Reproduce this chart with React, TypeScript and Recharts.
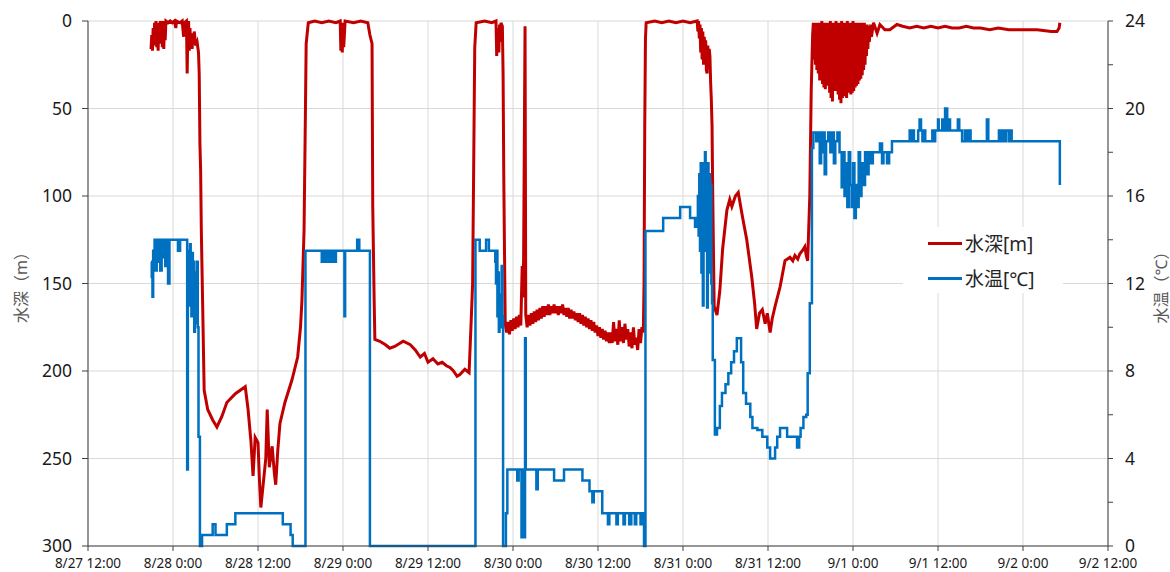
import {
  CartesianGrid,
  Legend,
  Line,
  LineChart,
  XAxis,
  YAxis,
} from "recharts";

// hours since 8/27 12:00 -> readings
const xTickLabels = [
  "8/27 12:00",
  "8/28 0:00",
  "8/28 12:00",
  "8/29 0:00",
  "8/29 12:00",
  "8/30 0:00",
  "8/30 12:00",
  "8/31 0:00",
  "8/31 12:00",
  "9/1 0:00",
  "9/1 12:00",
  "9/2 0:00",
  "9/2 12:00",
];
const depthTicks = [0, 50, 100, 150, 200, 250, 300];
const tempTicks = [0, 2, 4, 6, 8, 10, 12, 14, 16, 18, 20, 22, 24];

// [hour, depth m]
const depthReadings: [number, number][] = [
  [8.9, 16], [9.0, 8], [9.1, 17], [9.2, 4], [9.3, 14], [9.4, 1], [9.5, 12], [9.6, 0],
  [9.7, 15], [9.8, 3], [9.9, 17], [10.0, 1], [10.1, 13], [10.2, 0], [10.3, 9], [10.4, 0],
  [10.5, 15], [10.6, 2], [10.7, 16], [10.8, 0], [10.9, 11], [11.0, 0], [11.3, 1], [11.6, 0],
  [11.9, 1], [12.2, 0], [12.4, 4], [12.5, 0], [13.0, 1], [13.3, 0], [13.5, 9], [13.6, 1],
  [13.9, 0], [14.0, 30], [14.1, 6], [14.2, 0], [14.3, 17], [14.4, 4], [14.5, 15], [14.6, 7],
  [14.7, 16], [14.8, 9], [14.9, 13], [15.0, 6], [15.2, 14], [15.4, 12], [15.6, 18], [15.7, 30],
  [15.8, 70], [15.9, 85], [16.0, 120], [16.2, 165], [16.4, 211], [16.9, 222], [17.6, 228],
  [18.2, 232], [18.9, 226], [19.6, 218], [20.8, 213], [22.2, 209], [22.6, 222], [23.0, 240],
  [23.3, 260], [23.6, 238], [24.0, 241], [24.2, 262], [24.4, 278], [24.8, 262], [25.1, 250],
  [25.3, 222], [25.6, 255], [26.0, 243], [26.3, 258], [26.5, 265], [26.8, 245], [27.1, 230],
  [27.8, 218], [28.8, 205], [29.6, 192], [30.0, 175], [30.2, 160], [30.5, 120], [30.7, 50],
  [30.8, 13], [31.1, 1], [32.0, 0], [33.0, 1], [34.0, 0], [35.0, 1], [35.6, 0], [35.7, 17],
  [35.8, 2], [35.9, 18], [36.0, 1], [36.1, 15], [36.3, 0], [37.5, 1], [38.5, 0], [39.5, 1],
  [39.8, 8], [40.1, 13], [40.2, 106], [40.4, 160], [40.5, 182], [41.2, 183], [42.0, 185],
  [42.6, 187], [43.3, 186], [44.5, 183], [45.5, 185], [46.2, 188], [46.9, 192], [47.5, 190],
  [48.0, 195], [48.7, 193], [49.4, 196], [50.0, 195], [50.6, 197], [51.1, 198], [51.6, 200],
  [52.1, 203], [52.5, 202], [53.2, 199], [53.8, 201], [54.1, 171], [54.3, 150],
  [54.5, 60], [54.6, 15], [54.8, 1], [56.0, 0], [57.0, 1], [57.6, 0], [57.7, 20], [57.8, 4],
  [58.0, 18], [58.1, 2], [58.2, 12], [58.3, 1], [58.5, 3], [58.6, 30], [58.7, 90], [58.9, 173],
  [59.1, 178], [59.3, 172], [59.5, 179], [59.7, 171], [59.9, 177], [60.1, 170], [60.3, 176],
  [60.5, 169], [60.7, 175], [60.9, 168], [61.1, 174], [61.3, 140], [61.4, 158], [61.5, 135],
  [61.7, 3], [61.8, 168], [62.0, 175], [62.2, 168], [62.4, 174], [62.6, 167], [62.8, 173],
  [63.0, 166], [63.2, 172], [63.4, 165], [63.6, 171], [63.8, 164], [64.0, 170], [64.2, 163],
  [64.4, 169], [64.6, 163], [64.8, 168], [65.0, 162], [65.2, 168], [65.4, 163], [65.6, 167],
  [65.8, 162], [66.0, 167], [66.2, 163], [66.4, 168], [66.6, 163], [66.8, 167], [67.0, 162],
  [67.2, 168], [67.4, 164], [67.6, 169], [67.8, 164], [68.0, 170], [68.2, 165], [68.4, 170],
  [68.6, 166], [68.8, 171], [69.0, 167], [69.2, 172], [69.4, 167], [69.6, 173], [69.8, 168],
  [70.0, 174], [70.2, 169], [70.4, 175], [70.6, 170], [70.8, 176], [71.0, 171], [71.2, 177],
  [71.4, 172], [71.6, 178], [71.8, 174], [72.0, 180], [72.2, 175], [72.4, 181], [72.6, 176],
  [72.8, 182], [73.0, 177], [73.2, 183], [73.4, 178], [73.6, 184], [73.8, 178], [74.0, 184],
  [74.2, 172], [74.4, 183], [74.6, 176], [74.8, 185], [75.0, 171], [75.2, 183], [75.4, 175],
  [75.6, 184], [75.8, 173], [76.0, 182], [76.2, 176], [76.4, 186], [76.6, 178], [76.8, 187],
  [77.0, 175], [77.2, 185], [77.4, 181], [77.6, 188], [77.8, 176], [78.0, 184], [78.2, 175],
  [78.4, 178], [78.5, 150], [78.6, 60], [78.7, 10],
  [78.8, 1], [80.0, 0], [81.0, 1], [82.0, 0], [83.0, 1], [84.0, 0], [85.0, 1], [86.0, 0],
  [86.1, 6], [86.2, 0], [86.3, 10], [86.4, 2], [86.5, 18], [86.6, 4], [86.7, 22], [86.8, 6],
  [86.9, 25], [87.0, 9], [87.1, 17], [87.2, 11], [87.3, 28], [87.4, 30], [87.5, 14], [87.6, 23],
  [87.7, 16], [87.8, 20], [87.9, 35], [88.0, 45], [88.1, 60], [88.2, 100], [88.4, 163],
  [88.8, 168], [89.2, 154], [89.6, 130], [90.2, 108], [90.6, 102], [90.9, 106], [91.4, 100],
  [91.8, 98], [92.4, 112], [93.0, 125], [93.7, 146], [94.1, 161], [94.4, 176], [94.8, 167],
  [95.2, 165], [95.6, 173], [95.9, 167], [96.3, 178], [96.6, 170], [97.0, 163], [97.7, 152],
  [98.4, 137], [99.1, 135], [99.5, 137], [99.8, 134], [100.2, 136], [100.5, 133], [100.9, 131],
  [101.2, 129], [101.4, 134], [101.6, 137], [101.9, 100], [102.1, 40], [102.3, 8],
  [102.4, 1], [102.5, 22], [102.6, 2], [102.7, 25], [102.8, 1], [102.9, 28], [103.0, 3],
  [103.1, 30], [103.2, 1], [103.3, 34], [103.4, 2], [103.5, 31], [103.6, 0], [103.7, 36],
  [103.8, 2], [103.9, 38], [104.0, 1], [104.1, 39], [104.2, 3], [104.3, 33], [104.4, 1],
  [104.5, 37], [104.6, 2], [104.7, 41], [104.8, 0], [104.9, 44], [105.0, 3], [105.1, 46],
  [105.2, 1], [105.3, 36], [105.4, 2], [105.5, 40], [105.6, 0], [105.7, 39], [105.8, 3],
  [105.9, 42], [106.0, 1], [106.1, 45], [106.2, 2], [106.3, 47], [106.4, 0], [106.5, 44],
  [106.6, 3], [106.7, 43], [106.8, 1], [106.9, 42], [107.0, 2], [107.1, 44], [107.2, 0],
  [107.3, 41], [107.4, 3], [107.5, 40], [107.6, 1], [107.7, 42], [107.8, 2], [107.9, 41],
  [108.0, 0], [108.1, 40], [108.2, 3], [108.3, 38], [108.4, 1], [108.5, 37], [108.6, 2],
  [108.7, 36], [108.8, 1], [108.9, 34], [109.0, 3], [109.1, 33], [109.2, 1], [109.3, 31],
  [109.4, 2], [109.5, 28], [109.6, 1], [109.7, 25], [109.8, 3], [109.9, 20], [110.0, 2],
  [110.1, 16], [110.2, 3], [110.3, 12], [110.5, 2], [110.6, 9], [110.9, 1], [111.4, 7],
  [111.8, 2], [112.5, 5], [113.2, 5], [114.2, 2], [115.0, 3], [116.0, 4], [117.0, 3],
  [118.0, 4], [119.0, 3], [120.0, 4], [121.0, 3], [122.0, 4], [123.0, 4], [124.0, 3],
  [125.0, 4], [126.0, 4], [127.3, 5], [128.5, 4], [130.0, 5], [132.0, 5], [134.0, 5],
  [136.0, 6], [136.8, 6], [137.1, 4], [137.2, 1],
];

// [hour, temperature °C]
const tempReadings: [number, number][] = [
  [8.9, 13.0], [9.0, 12.3], [9.1, 11.4], [9.2, 13.5], [9.4, 14.0], [9.5, 12.6], [9.7, 14.0],
  [9.9, 13.0], [10.0, 14.0], [10.2, 12.6], [10.4, 14.0], [10.5, 13.2], [10.7, 14.0], [10.9, 12.8],
  [11.0, 14.0], [11.2, 13.5], [11.3, 12.0], [11.5, 14.0], [12.7, 13.5], [13.0, 14.0], [14.0, 3.5],
  [14.1, 13.5], [14.3, 11.0], [14.4, 13.8], [14.5, 12.0], [14.6, 10.5], [14.7, 13.4], [14.8, 11.0],
  [14.9, 13.0], [15.0, 9.8], [15.1, 12.5], [15.2, 10.2], [15.3, 11.2], [15.4, 13.0], [15.5, 10.0],
  [15.6, 5.0], [15.8, 0], [16.1, 0.5], [17.6, 1.0], [18.0, 0.5], [19.6, 1.0], [20.8, 1.5],
  [27.5, 1.0], [28.6, 0.5], [28.9, 0], [30.7, 13.5], [33.0, 13.0], [33.1, 13.5], [33.3, 13.0],
  [33.4, 13.5], [33.6, 13.0], [33.8, 13.5], [34.0, 13.0], [34.2, 13.5], [34.4, 13.0], [34.6, 13.5],
  [34.8, 13.0], [35.0, 13.5], [36.2, 10.5], [36.3, 13.5], [38.0, 14.0], [38.3, 13.5], [39.8, 0],
  [54.7, 14.0], [55.3, 13.5], [56.2, 14.0], [56.6, 13.5], [57.5, 13.0], [57.6, 12.0], [57.7, 13.5],
  [57.8, 10.5], [57.9, 12.5], [58.0, 9.8], [58.1, 11.5], [58.2, 10.0], [58.4, 12.8], [58.5, 10.5],
  [58.6, 0], [59.0, 1.5], [59.2, 3.5], [60.6, 3.0], [60.8, 3.5], [61.2, 0.4], [61.4, 3.5],
  [61.6, 0.4], [61.7, 9.5], [61.8, 3.5], [63.3, 2.6], [63.5, 3.5], [65.8, 3.0], [67.2, 3.5],
  [69.8, 3.0], [70.8, 2.5], [71.2, 2.0], [71.4, 2.5], [72.6, 1.5], [73.4, 1.0], [73.6, 1.5],
  [74.6, 1.0], [74.8, 1.5], [75.6, 1.0], [75.8, 1.5], [76.4, 1.0], [76.7, 1.5], [77.2, 1.0],
  [77.4, 1.5], [78.0, 1.0], [78.2, 1.5], [78.5, 0], [78.7, 14.4], [81.2, 15.0], [83.6, 15.5],
  [85.0, 15.0], [85.7, 14.6], [85.9, 15.0], [86.1, 16.0], [86.2, 14.2], [86.3, 17.0], [86.4, 13.5],
  [86.5, 17.5], [86.6, 12.5], [86.7, 16.5], [86.8, 11.0], [86.9, 17.5], [87.0, 13.5], [87.1, 18.0],
  [87.2, 13.5], [87.3, 17.5], [87.4, 10.9], [87.5, 17.5], [87.6, 12.5], [87.7, 17.0], [87.8, 14.0],
  [87.9, 16.5], [88.0, 12.0], [88.1, 11.1], [88.2, 8.5], [88.5, 5.1], [88.8, 5.4], [89.2, 6.4],
  [89.5, 7.0], [90.0, 7.4], [90.4, 7.9], [90.8, 8.4], [91.2, 8.9], [91.6, 9.5], [92.2, 8.4],
  [92.5, 7.0], [92.9, 6.5], [93.5, 5.9], [93.8, 5.4], [94.5, 5.3], [95.2, 5.0], [95.9, 4.5],
  [96.3, 4.0], [97.0, 4.5], [97.3, 5.0], [97.7, 5.4], [98.4, 5.4], [98.7, 5.0], [100.1, 4.5],
  [100.4, 5.0], [100.6, 5.4], [101.0, 5.9], [101.4, 6.0], [101.6, 7.9], [101.9, 11.1],
  [102.2, 18.2], [102.4, 18.9], [102.8, 18.5], [103.0, 18.9], [103.3, 17.5], [103.5, 18.9],
  [103.7, 18.0], [103.9, 18.9], [104.0, 17.0], [104.2, 18.5], [104.5, 18.9], [104.8, 18.0],
  [105.0, 18.9], [105.3, 17.5], [105.5, 18.5], [105.8, 18.9], [106.1, 18.0], [106.4, 16.4],
  [106.6, 18.0], [106.8, 16.0], [107.0, 17.5], [107.2, 15.5], [107.4, 18.0], [107.6, 16.5],
  [107.8, 15.5], [108.0, 17.5], [108.2, 15.0], [108.4, 16.5], [108.6, 15.5], [108.8, 18.0],
  [109.0, 16.0], [109.2, 17.5], [109.5, 16.5], [109.7, 18.0], [110.0, 17.0], [110.2, 18.0],
  [110.5, 17.5], [110.8, 18.0], [111.8, 18.4], [112.1, 17.5], [112.3, 18.0], [112.8, 17.5],
  [113.1, 18.0], [113.5, 18.5], [116.0, 19.0], [116.3, 18.5], [116.4, 19.0], [116.6, 18.5],
  [117.2, 19.0], [117.4, 19.5], [117.6, 19.0], [117.8, 18.5], [117.9, 19.0], [118.2, 18.5],
  [119.2, 19.0], [119.4, 18.5], [119.6, 19.0], [120.0, 19.5], [120.1, 19.0], [120.6, 19.5],
  [120.7, 19.0], [121.0, 20.0], [121.3, 19.0], [121.4, 19.5], [121.7, 19.0], [122.8, 19.5],
  [123.0, 19.0], [123.4, 18.5], [123.8, 19.0], [123.9, 18.5], [124.1, 19.0], [124.2, 18.5],
  [124.5, 19.0], [124.6, 18.5], [126.9, 19.5], [127.1, 18.5], [128.6, 19.0], [128.9, 18.5],
  [129.1, 19.0], [129.4, 18.5], [129.6, 19.0], [130.0, 18.5], [130.1, 19.0], [130.4, 18.5],
  [137.1, 18.5], [137.2, 16.5],
];

const RED = "#C00000";
const BLUE = "#0070C0";
const FONT = "'Noto Sans', 'Noto Sans CJK JP', sans-serif";

const depthData = depthReadings.map(([h, depth]) => ({ h, depth }));
const tempData = tempReadings.map(([h, temp]) => ({ h, temp }));
const xTicks = xTickLabels.map((_, i) => i * 12);

const LegendBox = () => (
  <div
    style={{
      position: "relative",
      width: 160,
      height: 66,
      background: "#fff",
      fontFamily: FONT,
      fontSize: 19,
      color: "#262626",
    }}
  >
    {[
      { label: "水深[m]", color: RED, top: 16 },
      { label: "水温[℃]", color: BLUE, top: 51 },
    ].map((item) => (
      <div
        key={item.label}
        style={{
          position: "absolute",
          left: 25,
          top: item.top - 13,
          height: 26,
          display: "flex",
          alignItems: "center",
          whiteSpace: "nowrap",
        }}
      >
        <span
          style={{
            display: "inline-block",
            width: 34,
            height: 3,
            background: item.color,
            marginRight: 3,
          }}
        />
        <span>{item.label}</span>
      </div>
    ))}
  </div>
);

export default function App() {
  return (
    <div
      style={{
        position: "absolute",
        left: 0,
        top: 0,
        width: 1170,
        height: 572,
        background: "#fff",
      }}
    >
      <LineChart
        width={1170}
        height={572}
        margin={{ top: 21, right: 0, bottom: 0, left: 0 }}
      >
        <CartesianGrid yAxisId="depth" stroke="#d9d9d9" strokeWidth={1} />
        <XAxis
          dataKey="h"
          type="number"
          domain={[0, 144]}
          ticks={xTicks}
          allowDataOverflow
          height={26}
          tickSize={5}
          tickMargin={7}
          stroke="#404040"
          tick={{ fill: "#1a1a1a", fontSize: 13.5, fontFamily: FONT }}
          tickFormatter={(v: number) => xTickLabels[Math.round(v / 12)] ?? ""}
          interval={0}
        />
        <YAxis
          yAxisId="depth"
          orientation="left"
          reversed
          domain={[0, 300]}
          ticks={depthTicks}
          width={88}
          tickSize={6}
          tickMargin={10}
          stroke="#404040"
          tick={{ fill: "#1a1a1a", fontSize: 17.5, fontFamily: FONT }}
          interval={0}
          label={{
            value: "水深（m）",
            angle: -90,
            position: "insideLeft",
            offset: 21,
            fill: "#595959",
            fontSize: 16,
            fontFamily: FONT,
            style: { textAnchor: "middle" },
          }}
        />
        <YAxis
          yAxisId="temp"
          orientation="right"
          domain={[0, 24]}
          ticks={tempTicks}
          width={62}
          tickSize={5}
          tickMargin={12}
          stroke="#404040"
          tick={{ fill: "#1a1a1a", fontSize: 17.5, fontFamily: FONT }}
          tickFormatter={(v: number) => (v % 4 === 0 ? String(v) : "")}
          interval={0}
          label={{
            value: "水温（℃）",
            angle: -90,
            position: "insideRight",
            offset: 9,
            fill: "#595959",
            fontSize: 16,
            fontFamily: FONT,
            style: { textAnchor: "middle" },
          }}
        />
        <Line
          yAxisId="depth"
          data={depthData}
          dataKey="depth"
          name="水深[m]"
          type="linear"
          stroke={RED}
          strokeWidth={3}
          dot={false}
          activeDot={false}
          isAnimationActive={false}
        />
        <Line
          yAxisId="temp"
          data={tempData}
          dataKey="temp"
          name="水温[℃]"
          type="stepAfter"
          stroke={BLUE}
          strokeWidth={2.5}
          dot={false}
          activeDot={false}
          isAnimationActive={false}
        />
        <Legend
          layout="vertical"
          align="center"
          verticalAlign="middle"
          content={() => <LegendBox />}
          wrapperStyle={{ left: 903, top: 227, width: 160, height: 66 }}
        />
      </LineChart>
    </div>
  );
}
